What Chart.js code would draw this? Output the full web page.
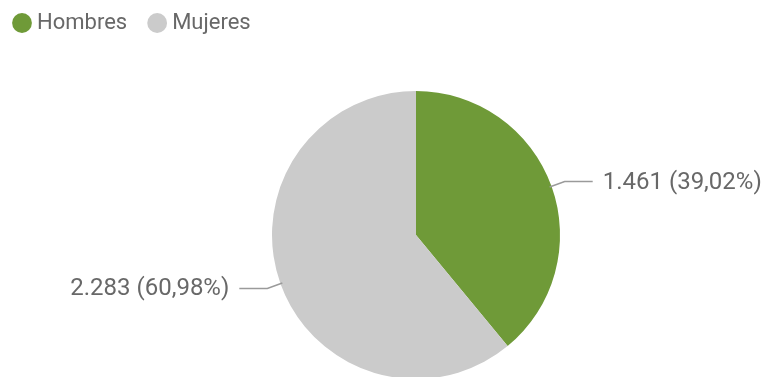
<!DOCTYPE html>
<html lang="es">
<head>
<meta charset="utf-8">
<title>Hombres / Mujeres</title>
<script src="https://cdn.jsdelivr.net/npm/chart.js@4.4.1/dist/chart.umd.min.js"></script>
<style>
  html, body { margin: 0; padding: 0; background: #fff; overflow: hidden; }
  #wrap { position: relative; width: 764px; height: 377px; }
</style>
</head>
<body>
<div id="wrap"><canvas id="sexo-chart"></canvas></div>
<script>
// datos: personas por sexo
var categorias = ["Hombres", "Mujeres"];
var personas   = [1461, 2283];
var colores    = ["#6f9a38", "#cbcbcb"];

var FONT      = "Roboto, 'Open Sans', sans-serif";
var TXT_COLOR = "#686868";

// posición y tamaño de la torta dentro del canvas
var PIE_CX = 416, PIE_CY = 235, PIE_R = 144;

// 1461 -> "1.461"
function fmtMiles(n) {
  return String(n).replace(/\B(?=(\d{3})+(?!\d))/g, ".");
}
// 0.39022 -> "39,02%"
function fmtPct(p) {
  return (p * 100).toFixed(2).replace(".", ",") + "%";
}

// fija el área de la torta (la leyenda queda arriba a la izquierda)
var pieArea = {
  id: "pieArea",
  afterLayout: function(chart) {
    var a = chart.chartArea;
    a.left = PIE_CX - PIE_R; a.right  = PIE_CX + PIE_R;
    a.top  = PIE_CY - PIE_R; a.bottom = PIE_CY + PIE_R;
    a.width = a.right - a.left; a.height = a.bottom - a.top;
  }
};

// etiquetas con línea guía: "valor (porcentaje)"
var guias = {
  id: "guias",
  afterDatasetsDraw: function(chart) {
    var ctx   = chart.ctx;
    var meta  = chart.getDatasetMeta(0);
    var data  = chart.data.datasets[0].data;
    var total = data.reduce(function(s, v) { return s + v; }, 0);

    ctx.save();
    ctx.font = "24px " + FONT;
    ctx.textBaseline = "middle";
    meta.data.forEach(function(arc, i) {
      var p   = arc.getProps(["x", "y", "startAngle", "endAngle", "outerRadius"], true);
      var mid = (p.startAngle + p.endAngle) / 2;
      var cos = Math.cos(mid), sin = Math.sin(mid);
      var dir = cos >= 0 ? 1 : -1;

      var x0 = p.x + cos * (p.outerRadius - 2),  y0 = p.y + sin * (p.outerRadius - 2);
      var x1 = p.x + cos * (p.outerRadius + 14), y1 = p.y + sin * (p.outerRadius + 14);
      var x2 = x1 + dir * 28;

      ctx.strokeStyle = "#9a9a9a";
      ctx.lineWidth = 1.5;
      ctx.beginPath();
      ctx.moveTo(x0, y0);
      ctx.lineTo(x1, y1);
      ctx.lineTo(x2, y1);
      ctx.stroke();

      ctx.fillStyle = TXT_COLOR;
      ctx.textAlign = dir > 0 ? "left" : "right";
      ctx.fillText(fmtMiles(data[i]) + " (" + fmtPct(data[i] / total) + ")", x2 + dir * 10, y1 + 1);
    });
    ctx.restore();
  }
};

new Chart(document.getElementById("sexo-chart"), {
  type: "pie",
  data: {
    labels: categorias,
    datasets: [{
      data: personas,
      backgroundColor: colores,
      borderWidth: 0
    }]
  },
  options: {
    responsive: true,
    maintainAspectRatio: false,
    animation: false,
    layout: { padding: { top: -14, left: -8 } },
    plugins: {
      tooltip: { enabled: false },
      legend: {
        display: true, position: "top", align: "start",
        labels: {
          usePointStyle: true, pointStyle: "circle",
          boxWidth: 8, boxHeight: 14, padding: 26,
          color: TXT_COLOR,
          font: { family: FONT, size: 22 }
        }
      }
    }
  },
  plugins: [pieArea, guias]
});
</script>
</body>
</html>
